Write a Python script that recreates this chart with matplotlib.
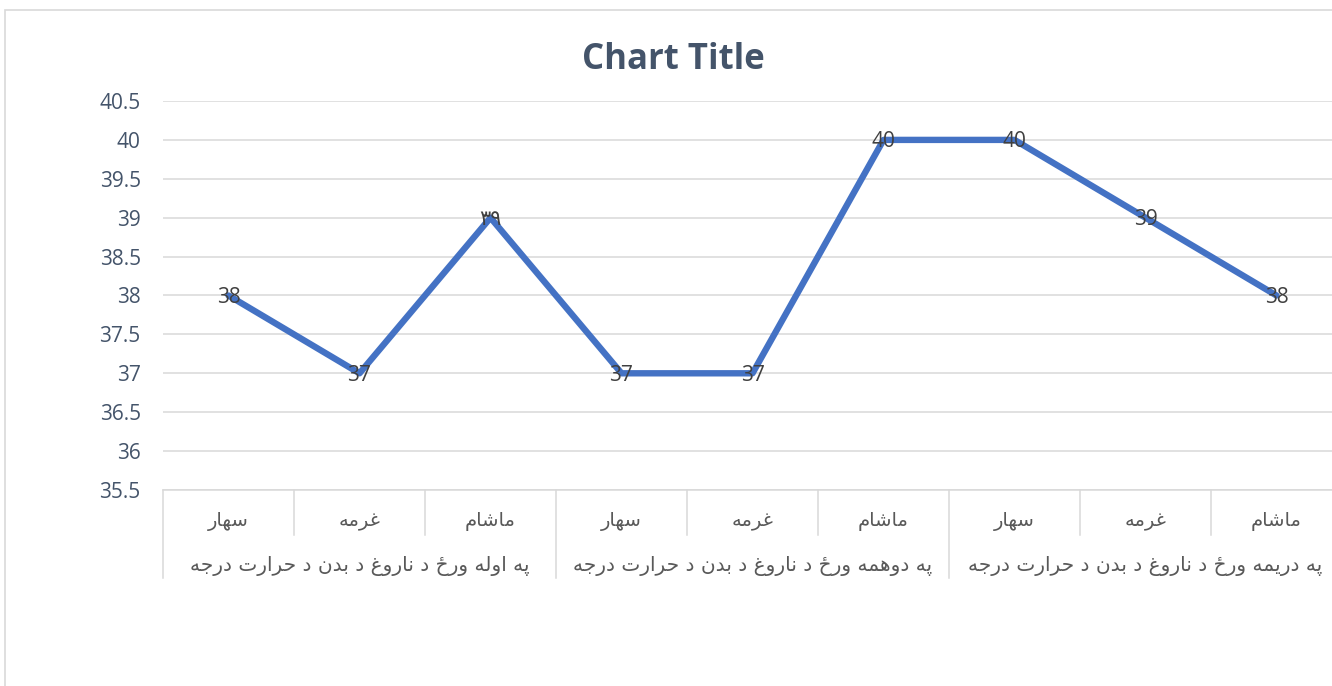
import matplotlib
matplotlib.use('Agg')
import matplotlib.pyplot as plt
from matplotlib.ticker import MultipleLocator, FuncFormatter
from matplotlib.patches import Rectangle

# data
times = ['سهار', 'غرمه', 'ماشام'] * 3
days = ['په اوله ورځ د ناروغ د بدن د حرارت درجه',
        'په دوهمه ورځ د ناروغ د بدن د حرارت درجه',
        'په دریمه ورځ د ناروغ د بدن د حرارت درجه']
temps = [38, 37, 39, 37, 37, 40, 40, 39, 38]
point_labels = ['38', '37', '٣٩', '37', '37', '40', '40', '39', '38']

# Arabic presentation forms: isolated, final, initial, medial
FORMS = {
    'ا': ('\uFE8D', '\uFE8E', None, None),
    'ب': ('\uFE8F', '\uFE90', '\uFE91', '\uFE92'),
    'پ': ('\uFB56', '\uFB57', '\uFB58', '\uFB59'),
    'ت': ('\uFE95', '\uFE96', '\uFE97', '\uFE98'),
    'ج': ('\uFE9D', '\uFE9E', '\uFE9F', '\uFEA0'),
    'ح': ('\uFEA1', '\uFEA2', '\uFEA3', '\uFEA4'),
    'د': ('\uFEA9', '\uFEAA', None, None),
    'ر': ('\uFEAD', '\uFEAE', None, None),
    'س': ('\uFEB1', '\uFEB2', '\uFEB3', '\uFEB4'),
    'ش': ('\uFEB5', '\uFEB6', '\uFEB7', '\uFEB8'),
    'غ': ('\uFECD', '\uFECE', '\uFECF', '\uFED0'),
    'ل': ('\uFEDD', '\uFEDE', '\uFEDF', '\uFEE0'),
    'م': ('\uFEE1', '\uFEE2', '\uFEE3', '\uFEE4'),
    'ن': ('\uFEE5', '\uFEE6', '\uFEE7', '\uFEE8'),
    'ه': ('\uFEE9', '\uFEEA', '\uFEEB', '\uFEEC'),
    'و': ('\uFEED', '\uFEEE', None, None),
    'ی': ('\uFBFC', '\uFBFD', '\uFBFE', '\uFBFF'),
}


def shape(text):
    """Join Arabic letters and put them in visual (left to right) order."""
    out = []
    for i, c in enumerate(text):
        if c not in FORMS:
            out.append(c)
            continue
        prev = text[i - 1] if i > 0 else None
        nxt = text[i + 1] if i + 1 < len(text) else None
        join_prev = prev in FORMS and FORMS[prev][2] is not None
        join_next = nxt in FORMS and FORMS[c][2] is not None
        iso, fin, ini, med = FORMS[c]
        if join_prev and join_next:
            out.append(med)
        elif join_prev:
            out.append(fin)
        elif join_next:
            out.append(ini)
        else:
            out.append(iso)
    return ''.join(reversed(out))


plt.rcParams['font.family'] = ['Open Sans', 'DejaVu Sans']

W, H = 1332, 686
fig = plt.figure(figsize=(W / 100, H / 100), dpi=100)

# chart border (runs off the right and bottom edges)
fig.patches.append(Rectangle((5 / W, -0.1), 1.2, 1.1 - 10 / H, transform=fig.transFigure,
                             fill=False, edgecolor='#D9D9D9', lw=1.2))

ax = fig.add_axes([163 / W, 1 - 490 / H, 1179 / W, 389 / H])
x = list(range(len(temps)))
ax.plot(x, temps, color='#4472C4', lw=4.6, solid_capstyle='round', solid_joinstyle='round', zorder=3)

for xi, yi, lab in zip(x, temps, point_labels):
    ax.annotate(lab, (xi, yi), xytext=(0, -1.5), textcoords='offset points', ha='center',
                va='center', fontsize=15, color='#404040', zorder=4,
                family=['Open Sans', 'DejaVu Sans'])

ax.set_xlim(-0.5, len(temps) - 0.5)
ax.set_ylim(35.5, 40.5)
ax.yaxis.set_major_locator(MultipleLocator(0.5))
ax.yaxis.set_major_formatter(FuncFormatter(lambda v, p: '%g' % v))
ax.grid(axis='y', color='#D9D9D9', lw=1.1)
ax.set_axisbelow(True)
ax.tick_params(axis='y', length=0, labelsize=15, labelcolor='#44546A', pad=16)
ax.set_xticks([])
for s in ['top', 'right', 'left']:
    ax.spines[s].set_visible(False)
ax.spines['bottom'].set_color('#D9D9D9')
ax.spines['bottom'].set_linewidth(1.1)

# multi-level category axis
tr = ax.get_xaxis_transform()
for i in range(len(temps) + 1):
    bottom = -0.226 if i % 3 == 0 else -0.116
    ax.plot([i - 0.5, i - 0.5], [0, bottom], transform=tr, color='#D9D9D9', lw=1.1, clip_on=False)
for i, t in enumerate(times):
    ax.text(i, -0.08, shape(t), transform=tr, ha='center', va='center', fontsize=14,
            color='#595959', family='DejaVu Sans')
for j, d in enumerate(days):
    ax.text(3 * j + 1, -0.195, shape(d), transform=tr, ha='center', va='center', fontsize=14.5,
            color='#595959', family='DejaVu Sans')

fig.text(673 / W, 1 - 60 / H, 'Chart Title', ha='center', va='center', fontsize=25,
         fontweight='bold', color='#44546A')

fig.savefig('out.png', dpi=100)
